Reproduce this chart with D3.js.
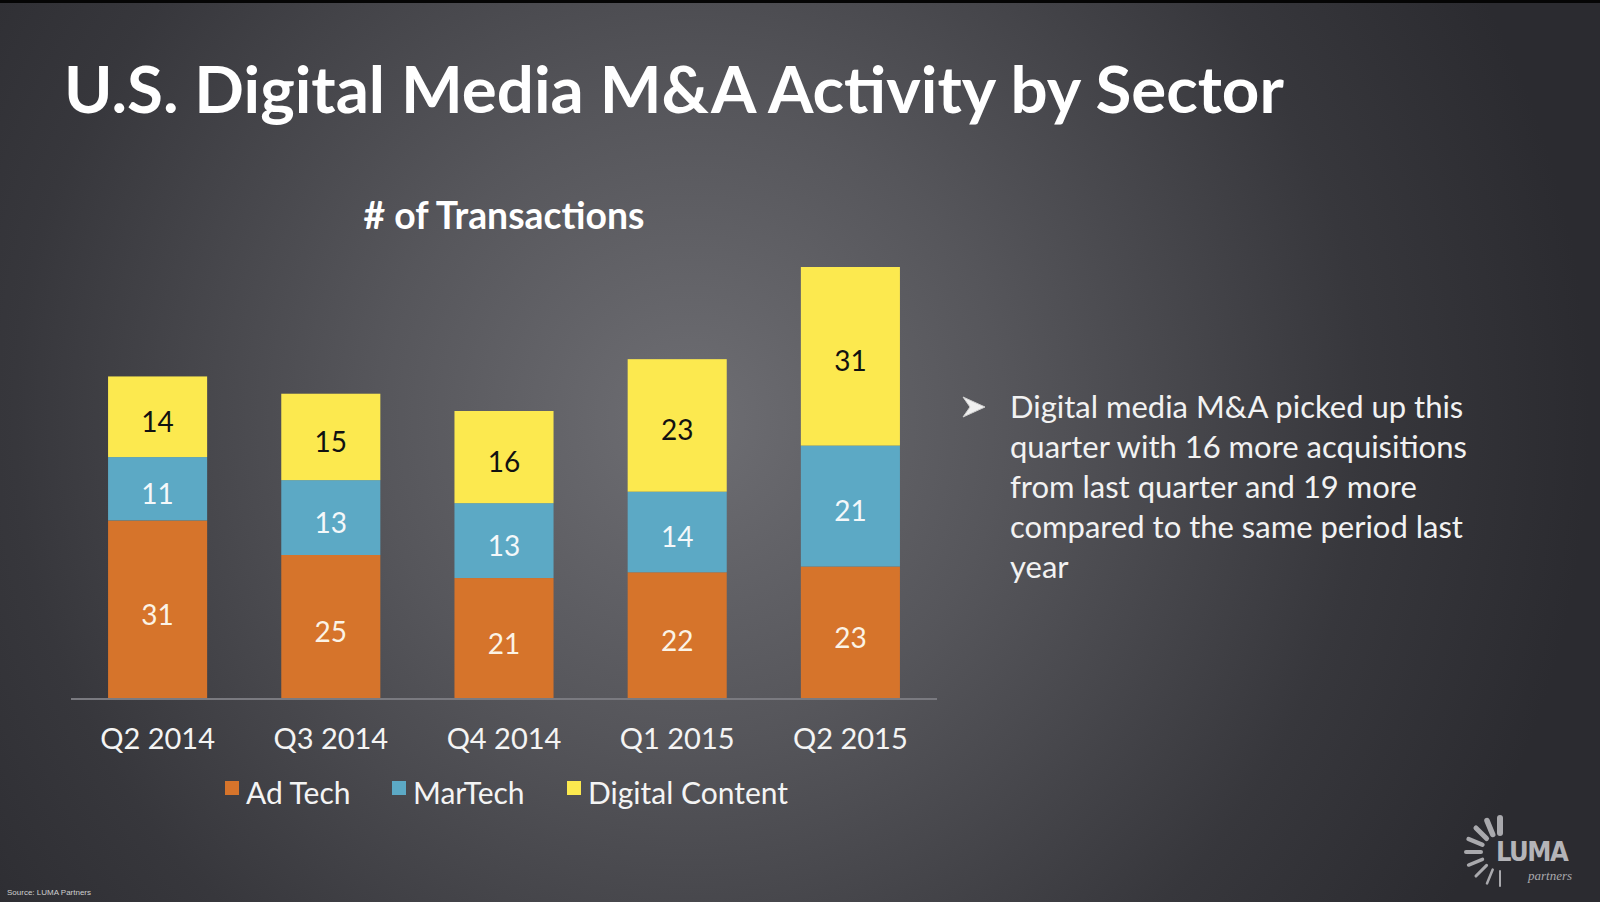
<!DOCTYPE html>
<html>
<head>
    <meta charset="utf-8">
    <script src="https://cdn.jsdelivr.net/npm/d3@7"></script>
    <style>
        html, body { margin: 0; padding: 0; background: #000; }
        svg { display: block; }
    </style>
</head>
<body>
    <div id="chart"></div>
<script>
    // data
    const categories = ["Q2 2014", "Q3 2014", "Q4 2014", "Q1 2015", "Q2 2015"];
    const adTech = [31, 25, 21, 22, 23];
    const marTech = [11, 13, 13, 14, 21];
    const digitalContent = [14, 15, 16, 23, 31];
    const seriesNames = ["Ad Tech", "MarTech", "Digital Content"];
    const bulletLines = [
        "Digital media M&A picked up this",
        "quarter with 16 more acquisitions",
        "from last quarter and 19 more",
        "compared to the same period last",
        "year"
    ];

    const W = 1600, H = 902;
    const font = "Lato, 'Open Sans', sans-serif";
    const colors = ["#d6742b", "#5ca9c5", "#fce94f"];
    const labelColors = ["#fbf3e6", "#f4f8fa", "#111111"];

    const svg = d3.select("#chart").append("svg")
        .attr("width", W).attr("height", H);

    // background: slide gradient
    const defs = svg.append("defs");
    const grad = defs.append("radialGradient").attr("id", "bg")
        .attr("gradientUnits", "userSpaceOnUse")
        .attr("cx", 690).attr("cy", 420).attr("r", 900);
    grad.append("stop").attr("offset", "0%").attr("stop-color", "#6e6e73");
    grad.append("stop").attr("offset", "35%").attr("stop-color", "#56565b");
    grad.append("stop").attr("offset", "75%").attr("stop-color", "#37373c");
    grad.append("stop").attr("offset", "100%").attr("stop-color", "#2b2b30");
    svg.append("rect").attr("width", W).attr("height", H).attr("fill", "url(#bg)");
    svg.append("rect").attr("width", W).attr("height", 3).attr("fill", "#050505");

    // helper: shrink/grow font to fill a given width
    function fitWidth(sel, target, node) {
        const len = (node || sel.node()).getComputedTextLength();
        const fs = parseFloat(sel.attr("font-size"));
        sel.attr("font-size", fs * target / len);
    }

    // title
    const title = svg.append("text")
        .attr("x", 64).attr("y", 113)
        .attr("font-family", font).attr("font-weight", 700)
        .attr("font-size", 64).attr("fill", "#ffffff")
        .text("U.S. Digital Media M&A Activity by Sector");
    fitWidth(title, 1220);

    const sub = svg.append("text")
        .attr("x", 504).attr("y", 229)
        .attr("text-anchor", "middle")
        .attr("font-family", font).attr("font-weight", 700)
        .attr("font-size", 32).attr("fill", "#ffffff")
        .text("# of Transactions");
    fitWidth(sub, 281);

    // chart
    const rows = categories.map((c, i) => ({
        cat: c, "Ad Tech": adTech[i], "MarTech": marTech[i], "Digital Content": digitalContent[i]
    }));
    const stack = d3.stack().keys(seriesNames)(rows);

    const x = d3.scaleBand().domain(categories)
        .range([71, 937]).paddingInner(0.428).paddingOuter(0.214);
    const y = d3.scaleLinear().domain([0, 80]).range([699, 699 - 80 * 5.76]);

    const g = svg.append("g");
    const layer = g.selectAll("g.layer").data(stack).join("g")
        .attr("class", "layer")
        .attr("fill", (d, i) => colors[i]);

    layer.selectAll("rect").data(d => d).join("rect")
        .attr("x", d => x(d.data.cat))
        .attr("width", x.bandwidth())
        .attr("y", d => y(d[1]))
        .attr("height", d => y(d[0]) - y(d[1]));

    layer.selectAll("text").data((d, i) => d.map(v => ({ v, i }))).join("text")
        .attr("x", d => x(d.v.data.cat) + x.bandwidth() / 2)
        .attr("y", d => (y(d.v[0]) + y(d.v[1])) / 2 + 4)
        .attr("text-anchor", "middle")
        .attr("dominant-baseline", "central")
        .attr("font-family", font).attr("font-size", 28)
        .attr("fill", d => labelColors[d.i])
        .text(d => d.v[1] - d.v[0]);

    // x axis
    const axis = svg.append("g")
        .attr("transform", "translate(0,699)")
        .call(d3.axisBottom(x).tickSize(0).tickPadding(29));
    axis.select(".domain").attr("stroke", "#7a7a80").attr("stroke-width", 2)
        .attr("d", "M71,0H937");
    axis.selectAll(".tick text")
        .attr("font-family", font).attr("font-size", 29)
        .attr("fill", "#f4f4f4");

    // legend
    const legendX = [225, 392, 567];
    const leg = svg.append("g").selectAll("g").data(seriesNames).join("g")
        .attr("transform", (d, i) => `translate(${legendX[i]},781)`);
    leg.append("rect").attr("width", 14).attr("height", 14)
        .attr("fill", (d, i) => colors[i]);
    leg.append("text").attr("x", 21).attr("y", 23)
        .attr("font-family", font).attr("font-size", 30)
        .attr("fill", "#f4f4f4")
        .text(d => d);

    // bullet point text
    svg.append("path")
        .attr("d", "M963,397 L985,407 L963,417 L970,407 Z")
        .attr("fill", "#f0f0f0").attr("stroke", "#cfcfcf").attr("stroke-width", 1);
    const bullet = svg.append("text")
        .attr("font-family", font).attr("font-size", 29)
        .attr("fill", "#f2f2f2");
    bullet.selectAll("tspan").data(bulletLines).join("tspan")
        .attr("x", 1010)
        .attr("y", (d, i) => 418 + i * 40)
        .text(d => d);
    fitWidth(bullet, 457, bullet.selectAll("tspan").nodes()[1]);

    // LUMA logo
    const logo = svg.append("g").attr("transform", "translate(1500,852)");
    const rayAngles = d3.range(9).map(i => -90 - i * 22.5);
    logo.selectAll("line").data(rayAngles).join("line")
        .attr("x1", a => 19 * Math.cos(a * Math.PI / 180))
        .attr("y1", a => 19 * Math.sin(a * Math.PI / 180))
        .attr("x2", a => 34 * Math.cos(a * Math.PI / 180))
        .attr("y2", a => 34 * Math.sin(a * Math.PI / 180))
        .attr("stroke", "#a9a9ad")
        .attr("stroke-linecap", "round")
        .attr("stroke-width", (a, i) => 6 - i * 0.5);
    logo.append("text").attr("x", -4).attr("y", 9)
        .attr("font-family", "'Liberation Sans Narrow', 'DejaVu Sans Condensed', sans-serif")
        .attr("font-weight", 700).attr("font-size", 27)
        .attr("letter-spacing", -1.5)
        .attr("fill", "#b4b4b8").text("LUMA");
    logo.append("text").attr("x", 28).attr("y", 28)
        .attr("font-family", "'Liberation Serif', serif")
        .attr("font-style", "italic").attr("font-size", 13)
        .attr("fill", "#a9a9ad").text("partners");

    // source
    svg.append("text").attr("x", 7).attr("y", 895)
        .attr("font-family", "'Liberation Sans', sans-serif").attr("font-size", 8)
        .attr("fill", "#cfcfcf").text("Source: LUMA Partners");
</script>
</body>
</html>
